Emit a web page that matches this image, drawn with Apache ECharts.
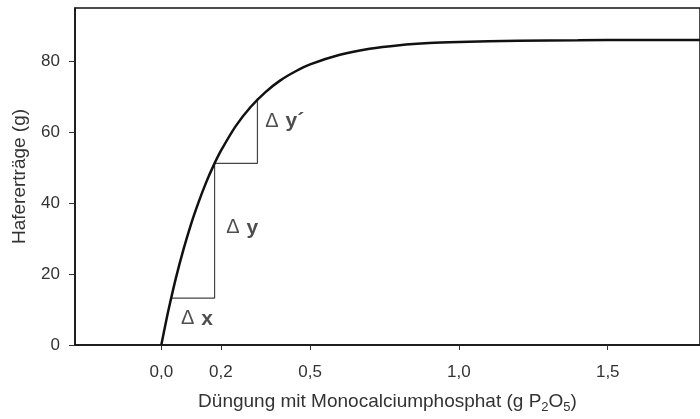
<!DOCTYPE html>
<html>
<head>
<meta charset="utf-8">
<script src="https://cdn.jsdelivr.net/npm/echarts@6/dist/echarts.min.js"></script>
<style>html,body{margin:0;padding:0;background:#fff}#c{width:700px;height:419px}</style>
</head>
<body>
<div id="c"></div>
<script>
// Curve
var curveX = [0, 0.01, 0.025, 0.05, 0.075, 0.1, 0.125, 0.15, 0.175, 0.2, 0.25, 0.3, 0.35, 0.4, 0.45, 0.5, 0.6, 0.7, 0.8, 0.9, 1.0, 1.2, 1.4, 1.6, 1.81];
var curveY = [0, 4.2, 10.2, 19.2, 27.1, 34.1, 40.2, 45.7, 50.5, 54.7, 61.7, 67.1, 71.3, 74.6, 77.1, 79.1, 81.8, 83.5, 84.5, 85.1, 85.4, 85.8, 85.9, 86.0, 86.0];
// Step construction (Δx, Δy, Δy')
var step1X = [0.033, 0.179, 0.179];
var step1Y = [13.2, 13.2, 51.2];
var step2X = [0.179, 0.323, 0.323];
var step2Y = [51.2, 51.2, 69.5];
// Annotations
var annoText = ['x', 'y', 'y´'];
var annoX = [0.066, 0.218, 0.349];
var annoY = [7.4, 33.0, 63.1];
// Ticks
var xTicks = [0, 0.2, 0.5, 1.0, 1.5];
var yTicks = [0, 20, 40, 60, 80];

function pairs(xs, ys) { return xs.map(function (x, i) { return [x, ys[i]]; }); }

var chart = echarts.init(document.getElementById('c'), null, { renderer: 'canvas' });
var font = '"Liberation Sans", Arial, sans-serif';
chart.setOption({
  animation: false,
  grid: { left: 75, right: -10, top: 8, bottom: 70.5, show: true, borderColor: '#111', borderWidth: 1.5 },
  xAxis: {
    type: 'value', min: -0.29, max: 1.81,
    splitLine: { show: false },
    axisLine: { show: true, onZero: false, lineStyle: { color: '#111', width: 1.5 } },
    axisTick: { show: true, customValues: xTicks, length: 5, lineStyle: { color: '#333' } },
    axisLabel: { customValues: xTicks, margin: 19, color: '#333', fontSize: 17, fontFamily: font,
      formatter: function (v) { return v.toFixed(1).replace('.', ','); } },
    name: 'Düngung mit Monocalciumphosphat (g P{s|2}O{s|5})',
    nameLocation: 'middle', nameGap: 44,
    nameTextStyle: { color: '#333', fontSize: 19, fontFamily: font,
      rich: { s: { fontSize: 13, verticalAlign: 'bottom', padding: [12, 0, 0, 0], color: '#333', fontFamily: font } } }
  },
  yAxis: {
    type: 'value', min: 0, max: 95,
    splitLine: { show: false },
    axisLine: { show: true, onZero: false, lineStyle: { color: '#111', width: 1.5 } },
    axisTick: { show: true, customValues: yTicks, length: 6, lineStyle: { color: '#333' } },
    axisLabel: { customValues: yTicks, margin: 15, color: '#333', fontSize: 17, fontFamily: font },
    name: 'Hafererträge (g)', nameLocation: 'middle', nameGap: 46,
    nameTextStyle: { color: '#333', fontSize: 19, fontFamily: font }
  },
  series: [
    { type: 'line', data: pairs(curveX, curveY), smooth: 0.25, showSymbol: false,
      lineStyle: { color: '#111', width: 2.5 }, z: 3 },
    { type: 'line', data: pairs(step1X, step1Y), showSymbol: false, lineStyle: { color: '#444', width: 1.2 }, z: 2 },
    { type: 'line', data: pairs(step2X, step2Y), showSymbol: false, lineStyle: { color: '#444', width: 1.2 }, z: 2 },
    { type: 'scatter', symbolSize: 0,
      data: annoX.map(function (x, i) { return { value: [x, annoY[i]], name: annoText[i] }; }),
      label: { show: true, position: [0, 0], align: 'left', verticalAlign: 'middle',
        formatter: function (p) { return '{d|Δ}{v|' + p.name + '}'; },
        rich: { d: { fontSize: 20, color: '#222', fontFamily: font },
                v: { fontSize: 21, fontWeight: 'bold', color: '#222', fontFamily: font, padding: [0, 0, 0, 7] } } } }
  ]
});
</script>
</body>
</html>
